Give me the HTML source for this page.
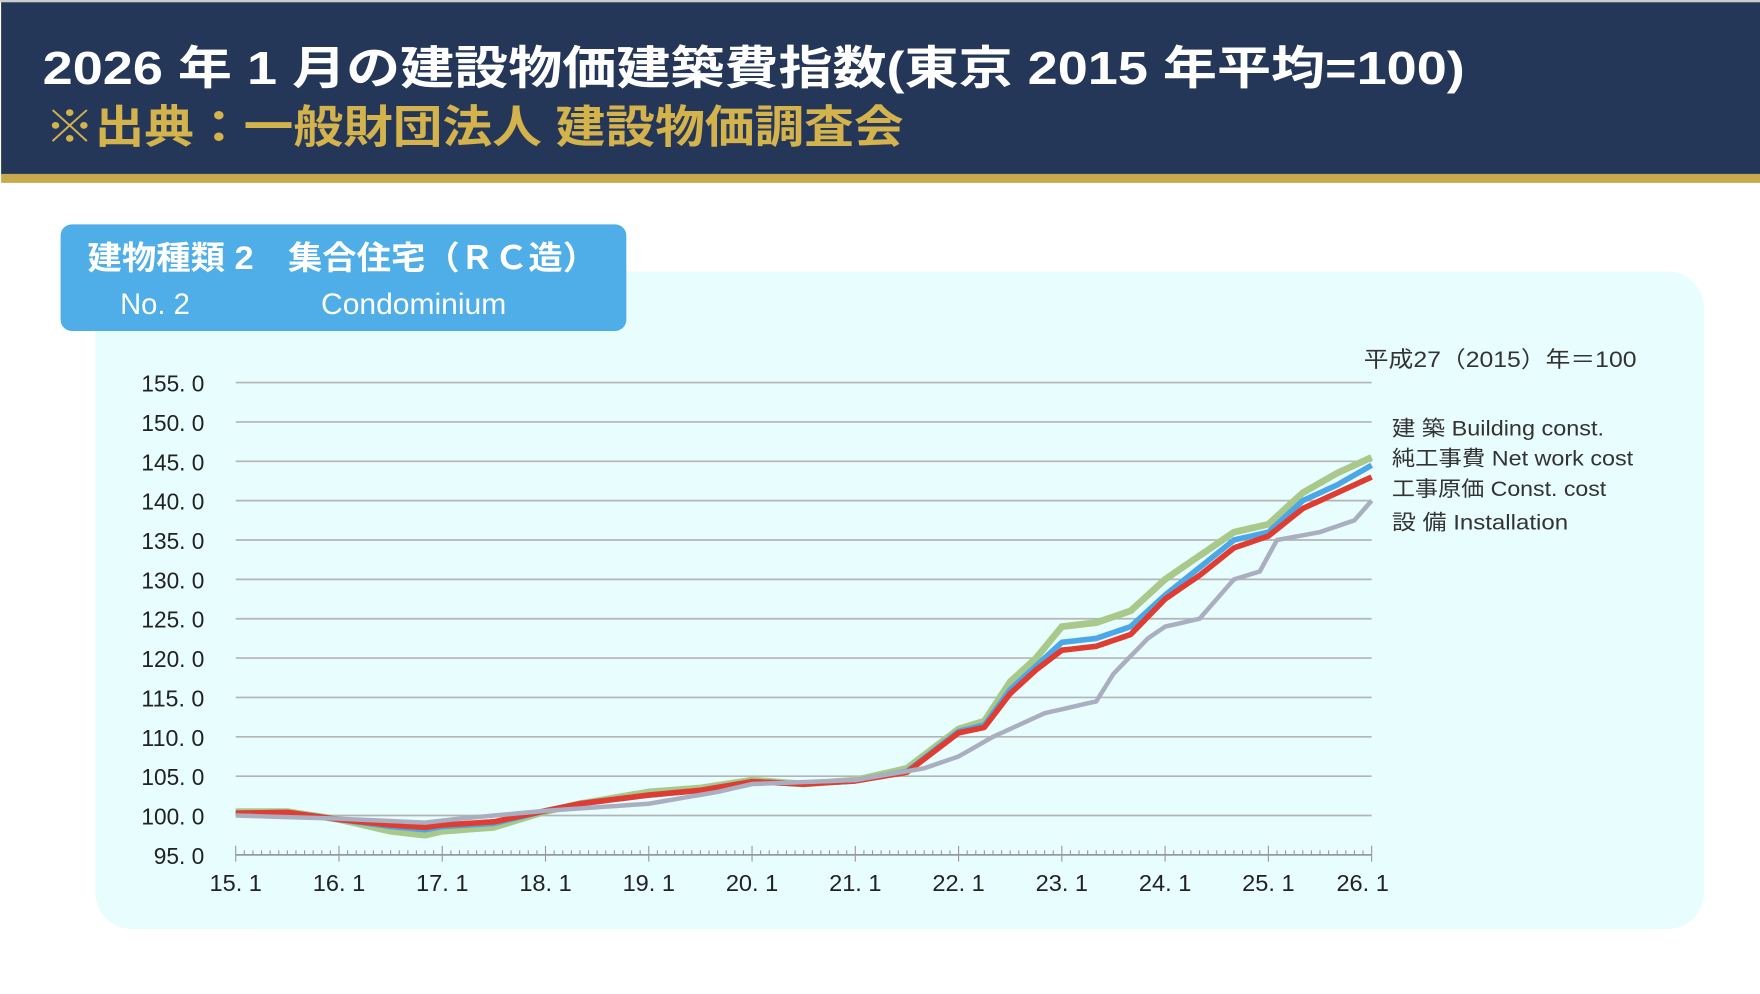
<!DOCTYPE html>
<html><head><meta charset="utf-8"><style>
html,body{margin:0;padding:0;background:#fff;}
svg{display:block;}
text{font-family:"Liberation Sans","Noto Sans CJK JP",sans-serif;}
</style></head><body>
<svg id="s" width="1760" height="994" viewBox="0 0 1568 886" preserveAspectRatio="none" xmlns="http://www.w3.org/2000/svg">
<rect x="0" y="0" width="1568" height="886" fill="#fff"/>
<rect x="0" y="0" width="1568" height="2" fill="#ccc"/>
<rect x="1" y="2" width="1567" height="154" fill="#243759"/>
<rect x="1" y="155" width="1567" height="8" fill="#C8A94E"/>
<text x="38" y="75" font-size="41" font-weight="bold" fill="#fff" textLength="1267" lengthAdjust="spacingAndGlyphs">2026 年 1 月の建設物価建築費指数(東京 2015 年平均=100)</text>
<text x="40" y="127" font-size="40" font-weight="bold" fill="#D4B24C" textLength="765" lengthAdjust="spacingAndGlyphs">※出典：一般財団法人 建設物価調査会</text>
<rect x="85" y="242" width="1433" height="586" rx="32" fill="#E8FDFD"/>
<rect x="54" y="200" width="504" height="95" rx="10" fill="#4FAEE8"/>
<text x="78" y="240" font-size="29" font-weight="bold" fill="#fff" textLength="454" lengthAdjust="spacingAndGlyphs">建物種類 2　集合住宅（ＲＣ造）</text>
<text x="107" y="280" font-size="26" fill="#fff">No. 2</text>
<text x="286" y="280" font-size="26" fill="#fff" textLength="165" lengthAdjust="spacingAndGlyphs">Condominium</text>
<text x="1215" y="327" font-size="20" fill="#333" textLength="243" lengthAdjust="spacingAndGlyphs">平成27（2015）年＝100</text>
<g font-size="19" fill="#333">
<text x="1240" y="388" textLength="189" lengthAdjust="spacingAndGlyphs">建 築  Building const.</text>
<text x="1240" y="415" textLength="215" lengthAdjust="spacingAndGlyphs">純工事費  Net work cost</text>
<text x="1240" y="442" textLength="191" lengthAdjust="spacingAndGlyphs">工事原価  Const. cost</text>
<text x="1240" y="472" textLength="157" lengthAdjust="spacingAndGlyphs">設 備  Installation</text>
</g>
<g id="grid"></g>
<g id="lines"></g>
</svg>
<script>
const NS="http://www.w3.org/2000/svg";
const g=document.getElementById('grid'), L=document.getElementById('lines');
function el(t,a,p){const e=document.createElementNS(NS,t);for(const k in a)e.setAttribute(k,a[k]);(p||g).appendChild(e);return e;}
const X=m=>210+m*(1012/132), Y=v=>762-(v-95)*(421/60);
for(let i=0;i<=12;i++){const v=95+i*5,y=Y(v);
 if(i>0)el('line',{x1:210,x2:1222,y1:y,y2:y,stroke:'#B4B4B4','stroke-width':1.5});
 const t=el('text',{x:182,y:y+8,'font-size':21,'text-anchor':'end',fill:'#222',textLength:(v>=100?56:45),lengthAdjust:'spacingAndGlyphs'});t.textContent=v.toFixed(1).replace('.', '. ');}
el('line',{x1:210,x2:1222,y1:762,y2:762,stroke:'#999','stroke-width':1.5});
for(let m=0;m<=132;m++){const x=X(m);el('line',{x1:x,x2:x,y1:m%12?758:754,y2:762+(m%12?0:6),stroke:'#999','stroke-width':1});}
for(let k=0;k<=11;k++){const t=el('text',{x:X(k*12)-(k==11?8:0),y:794,'font-size':21,'text-anchor':'middle',fill:'#222'});t.textContent=(15+k)+'. 1';}
function series(pts,c,w){let d=[];for(let i=0;i<pts.length-1;i++){const[a,va]=pts[i],[b,vb]=pts[i+1];for(let m=a;m<b;m++){d.push(X(m)+','+Y(va+(vb-va)*(m-a)/(b-a)));}}
 const l=pts[pts.length-1];d.push(X(l[0])+','+Y(l[1]));
 el('polyline',{points:d.join(' '),fill:'none',stroke:c,'stroke-width':w,'stroke-linejoin':'round'},L);}
series([[0,100.5],[6,100.5],[12,99.5],[18,98],[22,97.5],[24,98],[30,98.5],[36,100.5],[40,101.5],[48,103],[54,103.5],[60,104.5],[66,104],[72,104.5],[78,106],[84,111],[87,112],[90,117],[93,120],[96,124],[100,124.5],[104,126],[108,130],[112,133],[116,136],[120,137],[124,141],[128,143.5],[132,145.5]],'#A9C98A',6);
series([[0,100.3],[6,100.4],[12,99.5],[18,98.6],[22,98.2],[24,98.6],[30,99],[36,100.6],[40,101.5],[48,102.6],[54,103.2],[60,104.3],[66,104],[72,104.4],[78,105.6],[84,110.7],[87,111.5],[90,116],[93,119],[96,122],[100,122.5],[104,124],[108,128],[112,131.5],[116,135],[120,136],[124,140],[128,142],[132,144.5]],'#4AA8E8',5);
series([[0,100.3],[6,100.4],[12,99.5],[18,98.8],[22,98.5],[24,98.8],[30,99.2],[36,100.6],[40,101.5],[48,102.6],[54,103.2],[60,104.3],[66,104],[72,104.4],[78,105.5],[84,110.5],[87,111.2],[90,115.5],[93,118.5],[96,121],[100,121.5],[104,123],[108,127.5],[112,130.5],[116,134],[120,135.5],[124,139],[128,141],[132,143]],'#E03C31',5);
series([[0,100],[12,99.6],[22,99.1],[26,99.6],[36,100.6],[48,101.5],[56,103],[60,104],[72,104.5],[80,106],[84,107.5],[88,110],[94,113],[100,114.5],[102,118],[106,122.5],[108,124],[112,125],[116,130],[119,131],[121,135],[126,136],[130,137.5],[132,140]],'#A9AEC0',4);
</script>
</body></html>
